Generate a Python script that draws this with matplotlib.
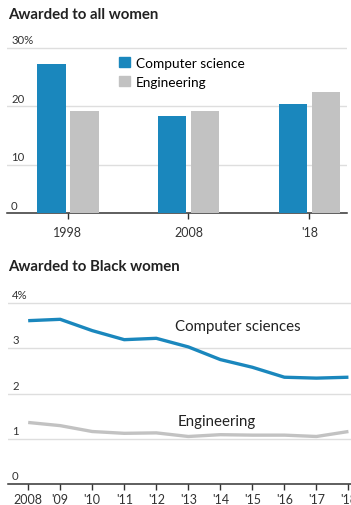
import numpy as np
import matplotlib.pyplot as plt
from matplotlib.patches import Patch

# data
bar_years = ["1998", "2008", "'18"]
cs_all = [27.3, 18.4, 20.4]
eng_all = [19.2, 19.2, 22.5]

line_years = np.arange(2008, 2019)
line_labels = ["2008", "'09", "'10", "'11", "'12", "'13", "'14", "'15", "'16", "'17", "'18"]
cs_black = [3.61, 3.64, 3.39, 3.19, 3.22, 3.03, 2.75, 2.58, 2.36, 2.34, 2.36]
eng_black = [1.36, 1.29, 1.16, 1.12, 1.13, 1.05, 1.09, 1.08, 1.08, 1.05, 1.16]

BLUE = "#1a87bd"
GRAY = "#c2c2c2"
GRID = "#dedede"
DARK = "#333333"

plt.rcParams['font.family'] = ['Lato', 'DejaVu Sans']

W, H = 351, 506
fig = plt.figure(figsize=(W / 100, H / 100), dpi=100)


def px_axes(x0, x1, ytop, ybot):
    # axes box in figure pixels, measured from the top left corner
    return fig.add_axes([x0 / W, 1 - ybot / H, (x1 - x0) / W, (ybot - ytop) / H])


def style(ax):
    for s in ["top", "right", "left"]:
        ax.spines[s].set_visible(False)
    ax.spines["bottom"].set_color(DARK)
    ax.spines["bottom"].set_linewidth(1.1)
    ax.set_yticks([])
    ax.tick_params(axis="x", length=4, width=1, color=DARK, labelsize=9,
                   labelcolor=DARK)


def ylabel(ax, y, text):
    ax.annotate(text, xy=(0.012, y), xycoords=ax.get_yaxis_transform(),
                xytext=(0, 2), textcoords="offset points", ha="left", va="bottom",
                fontsize=8.2, color=DARK)


# ---------------- top: all women (bars) ----------------
ax1 = px_axes(7, 347, 45.2, 214.3)
style(ax1)
x = np.arange(len(bar_years))
ax1.bar(x - 0.135, cs_all, width=0.236, color=BLUE, zorder=3)
ax1.bar(x + 0.138, eng_all, width=0.236, color=GRAY, zorder=3)
ax1.set_xlim(-0.502, 2.312)
ax1.set_ylim(1.65, 30.7)
for g in [10, 20, 30]:
    ax1.axhline(g, color=GRID, lw=1, zorder=1)
ax1.set_xticks(x, bar_years)
ax1.tick_params(axis="x", pad=5)
ylabel(ax1, 1.65, "0")
for g, t in zip([10, 20, 30], ["10", "20", "30%"]):
    ylabel(ax1, g, t)

handles = [Patch(color=BLUE, label="Computer science"),
           Patch(color=GRAY, label="Engineering")]
ax1.legend(handles=handles, loc="upper left", bbox_to_anchor=(119 / W, 1 - 58 / H),
           bbox_transform=fig.transFigure, frameon=False, fontsize=9.8,
           handlelength=0.8, handleheight=0.8, handletextpad=0.45,
           labelspacing=0.5, borderpad=0, borderaxespad=0)

fig.text(8 / W, 1 - 15 / H, "Awarded to all women", fontsize=10.8,
         fontweight="bold", color="#222222", ha="left", va="center")

# ---------------- bottom: Black women (lines) ----------------
ax2 = px_axes(8, 351, 299.5, 485)
style(ax2)
for g in [1, 2, 3, 4]:
    ax2.axhline(g, color=GRID, lw=1, zorder=1)
ax2.plot(line_years, cs_black, color=BLUE, lw=2.4, zorder=3, solid_capstyle="butt")
ax2.plot(line_years, eng_black, color=GRAY, lw=2.4, zorder=3, solid_capstyle="butt")
ax2.set_xlim(2007.37, 2018.08)
ax2.set_ylim(0, 4.1)
ax2.set_xticks(line_years, line_labels)
ax2.tick_params(axis="x", pad=2.5)
for g, t in zip([0, 1, 2, 3, 4], ["0", "1", "2", "3", "4%"]):
    ylabel(ax2, g, t)

ax2.text(2012.6, 3.485, "Computer sciences", fontsize=10.8, color="#222222",
         ha="left", va="center")
ax2.text(2012.68, 1.40, "Engineering", fontsize=10.8, color="#222222",
         ha="left", va="center")

fig.text(8 / W, 1 - 267 / H, "Awarded to Black women", fontsize=10.8,
         fontweight="bold", color="#222222", ha="left", va="center")

fig.savefig("out.png", dpi=100)
